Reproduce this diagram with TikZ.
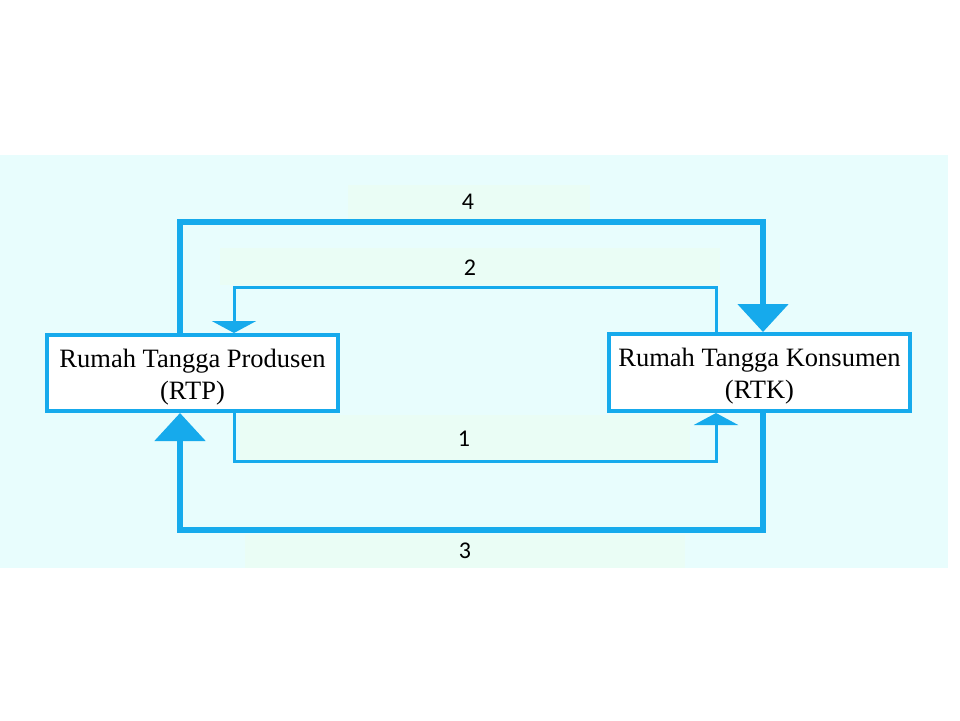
\documentclass[tikz,border=0pt]{standalone}
\usepackage{fontspec}
\setmainfont{Liberation Serif}
\newfontfamily\labelfont{Carlito}
\usetikzlibrary{arrows.meta}
\definecolor{flowblue}{RGB}{22,170,236}
\definecolor{bgcyan}{RGB}{232,253,253}
\definecolor{bggreen}{RGB}{234,253,245}
\tikzset{
  x=1pt, y=-1pt,
  household/.style={draw=flowblue, line width=4pt, fill=white, inner sep=0pt},
  housetext/.style={align=center, font=\fontsize{26.5}{32}\selectfont, inner sep=0pt},
  thickflow/.style={draw=flowblue, line width=5.5pt,
    -{Triangle[width=50pt,length=28pt]}},
  thinflow/.style={draw=flowblue, line width=3pt,
    -{Triangle[width=44pt,length=12pt]}},
  flowlabel/.style={font=\labelfont\fontsize{24}{28}\selectfont, inner sep=0pt}
}
\begin{document}
\begin{tikzpicture}
\useasboundingbox (0,0) rectangle (960,720);
\fill[white] (0,0) rectangle (960,720);
\fill[bgcyan] (0,155) rectangle (948,568);
\fill[bggreen] (348,185) rectangle (590,222);
\fill[bggreen] (220,248) rectangle (720,285);
\fill[bggreen] (240,415) rectangle (690,460);
\fill[bggreen] (245,535) rectangle (685,568);

\node[household, minimum width=291pt, minimum height=76pt] (RTP) at (192.5,373) {};
\node[household, minimum width=301pt, minimum height=77pt] (RTK) at (759.5,372.5) {};
\node[housetext] (RTPtext) at ([yshift=-4pt]RTP.center) {Rumah Tangga Produsen\\(RTP)};
\node[housetext] (RTKtext) at ([yshift=-4pt]RTK.center) {Rumah Tangga Konsumen\\(RTK)};

\coordinate (xa) at (180,0);
\coordinate (xb) at (234,0);
\coordinate (xc) at (716,0);
\coordinate (xd) at (763,0);

% 4
\draw[thickflow] (RTP.north -| xa) -- (180,222) -- (763,222) -- (RTK.north -| xd);
% 2
\draw[thinflow] (RTK.north -| xc) -- (716,287) -- (234,287) -- (RTP.north -| xb);
% 1
\draw[thinflow] (RTP.south -| xb) -- (234,461) -- (716,461) -- (RTK.south -| xc);
% 3
\draw[thickflow] (RTK.south -| xd) -- (763,530) -- (180,530) -- (RTP.south -| xa);

\node[flowlabel] (l4) at (468,202) {4};
\node[flowlabel] (l2) at (470,268) {2};
\node[flowlabel] (l1) at (464,439) {1};
\node[flowlabel] (l3) at (465,551) {3};
\end{tikzpicture}
\end{document}
